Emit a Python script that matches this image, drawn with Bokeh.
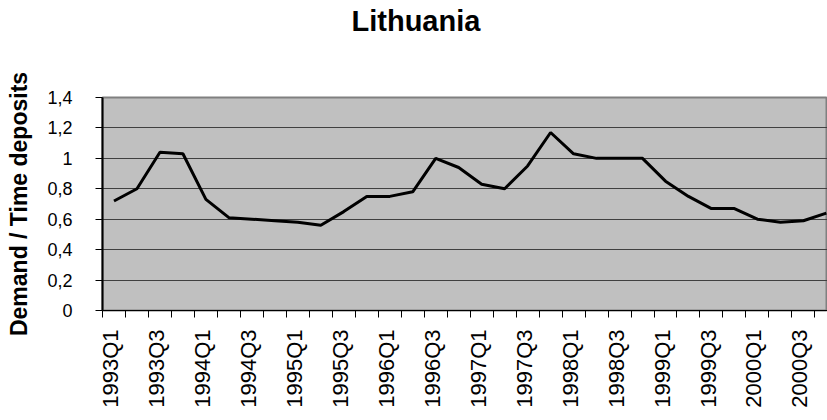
import math
from bokeh.plotting import figure
from bokeh.models import Range1d, FixedTicker, Title
from bokeh.embed import file_html
from bokeh.resources import INLINE

title_text = "Lithuania"
quarters = [f"{y}Q{q}" for y in range(1993, 2001) for q in range(1, 5)]
ratio = [0.72, 0.80, 1.04, 1.03, 0.73, 0.61, 0.60, 0.59,
         0.58, 0.56, 0.65, 0.75, 0.75, 0.78, 1.00, 0.94,
         0.83, 0.80, 0.95, 1.17, 1.03, 1.00, 1.00, 1.00,
         0.85, 0.75, 0.67, 0.67, 0.60, 0.58, 0.59, 0.64]
y_ticks = [0, 0.2, 0.4, 0.6, 0.8, 1.0, 1.2, 1.4]
y_tick_labels = ["0", "0,2", "0,4", "0,6", "0,8", "1", "1,2", "1,4"]

idx = list(range(len(quarters)))
label_shift = -0.15  # small visual nudge of the rotated labels
label_pos = [i + label_shift for i in idx[::2]]

p = figure(width=827, height=420, output_backend="svg", toolbar_location=None,
           x_range=Range1d(-0.5, 31.05), y_range=Range1d(0, 1.4),
           min_border_left=102, min_border_top=97, min_border_right=0, min_border_bottom=110)

# real title
p.title.text = title_text
p.title.text_font = "Liberation Sans"
p.title.text_font_size = "29px"
p.title.text_font_style = "bold"
p.title.text_color = "black"
p.title.align = "left"
p.title.offset = 249
p.title.vertical_align = "top"
p.title.standoff = 0

# blank spacer between the title and the plot frame
p.add_layout(Title(text=" ", text_font_size="1px", standoff=56), "above")

p.background_fill_color = "#C0C0C0"
p.border_fill_color = "white"
p.outline_line_color = "#808080"
p.outline_line_width = 2

p.line(idx, ratio, line_color="black", line_width=3)

# x axis
xa = p.xaxis[0]
xa.ticker = FixedTicker(ticks=label_pos, minor_ticks=[i - 0.5 for i in idx])
xa.major_label_overrides = {pos: quarters[i] for pos, i in zip(label_pos, idx[::2])}
xa.major_label_orientation = math.pi / 2
xa.major_tick_out = 0
xa.major_tick_in = 0
xa.minor_tick_out = 7
xa.minor_tick_in = 0
xa.minor_tick_line_color = "black"
xa.axis_line_color = "black"
xa.axis_line_width = 1
xa.major_label_standoff = 12
xa.major_label_text_font = "Liberation Sans"
xa.major_label_text_font_size = "22px"
xa.major_label_text_color = "black"

# y axis
ya = p.yaxis[0]
ya.ticker = FixedTicker(ticks=y_ticks)
ya.major_label_overrides = {t: l for t, l in zip(y_ticks, y_tick_labels)}
ya.major_tick_out = 7
ya.major_tick_in = 0
ya.minor_tick_out = 0
ya.minor_tick_in = 0
ya.axis_line_color = "black"
ya.axis_line_width = 2
ya.major_tick_line_color = "black"
ya.major_label_standoff = 23
ya.major_label_text_font = "Liberation Sans"
ya.major_label_text_font_size = "18px"
ya.major_label_text_color = "black"
ya.axis_label = "Demand / Time deposits"
ya.axis_label_text_font = "Liberation Sans"
ya.axis_label_text_font_size = "23px"
ya.axis_label_text_font_style = "bold"
ya.axis_label_text_color = "black"
ya.axis_label_standoff = 12

p.xgrid.grid_line_color = None
p.ygrid.ticker = FixedTicker(ticks=y_ticks)
p.ygrid.grid_line_color = "#404040"
p.ygrid.grid_line_width = 1

open("out.html", "w").write(file_html(p, INLINE))
